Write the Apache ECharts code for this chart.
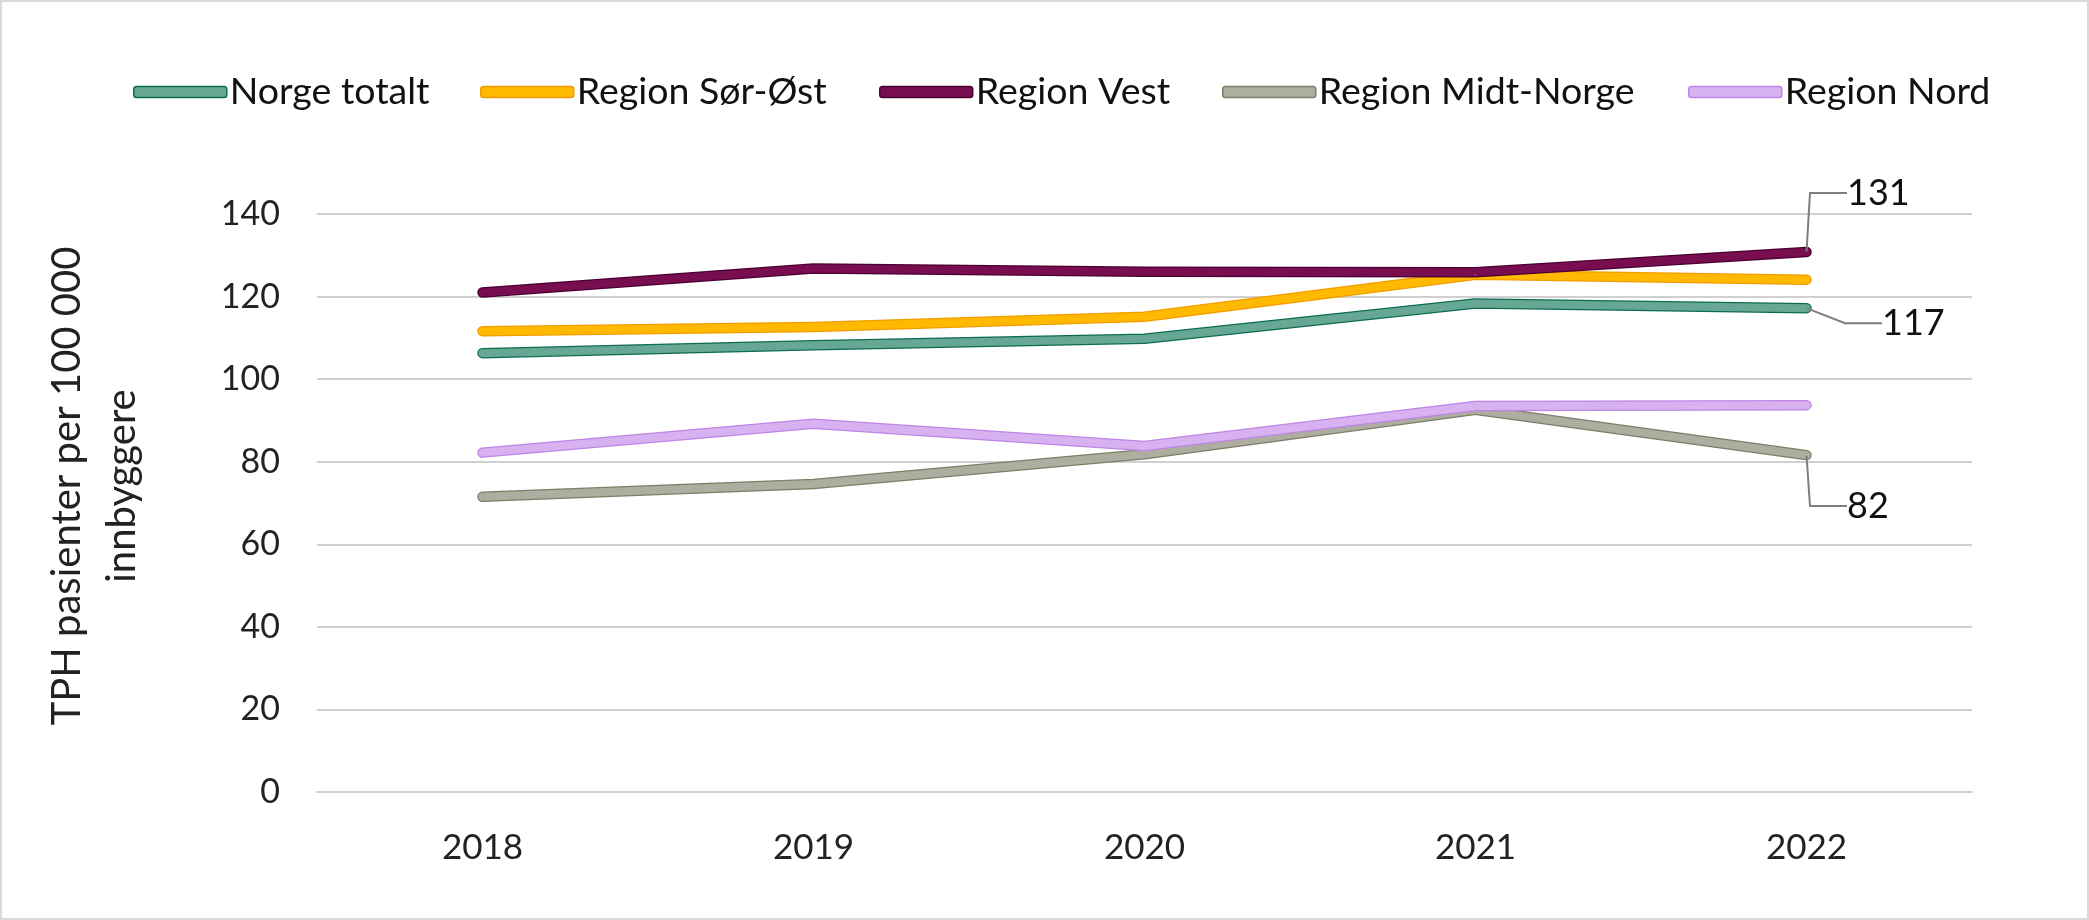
<!DOCTYPE html>
<html>
<head>
<meta charset="utf-8">
<script src="https://cdn.jsdelivr.net/npm/echarts@6/dist/echarts.min.js"></script>
<style>
html,body{margin:0;padding:0;background:#fff;}
#chart{width:2089px;height:920px;}
</style>
</head>
<body>
<div id="chart"></div>
<script>
const years = ['2018', '2019', '2020', '2021', '2022'];
const seriesNames = ['Norge totalt', 'Region Sør-Øst', 'Region Vest', 'Region Midt-Norge', 'Region Nord'];
const norgeTotalt = [106.3, 108.2, 109.8, 118.3, 117.2];
const regionSorOst = [111.6, 112.6, 115.1, 125.3, 124.1];
const regionVest = [121.0, 126.8, 126.0, 125.9, 130.8];
const regionMidtNorge = [71.5, 74.6, 81.8, 92.6, 81.6];
const regionNord = [82.2, 89.2, 83.8, 93.5, 93.7];
const yTicks = { min: 0, max: 140, interval: 20 };
const yAxisTitle = 'TPH pasienter per 100 000\ninnbyggere';

const allValues = [norgeTotalt, regionSorOst, regionVest, regionMidtNorge, regionNord];
const fillColors = ['#66a894', '#ffb900', '#780e50', '#adae9f', '#d8b2f0'];
const edgeColors = ['#0d6b55', '#f39c00', '#4a0030', '#7d7e68', '#bf84e6'];
// which series get an end label, and where that label is moved to
const endLabel = {
  0: { dx: 70, dy: 15 },
  2: { dx: 35, dy: -59 },
  3: { dx: 35, dy: 51 }
};
const FONT = 'Lato';
const legendLefts = [133, 480, 879, 1222, 1688];

const series = [];
allValues.forEach((vals, i) => {
  series.push({
    name: seriesNames[i] + ' ',
    type: 'line',
    data: vals,
    showSymbol: false,
    silent: true,
    lineStyle: { color: edgeColors[i], width: 10.5, cap: 'round', join: 'round' },
    itemStyle: { color: edgeColors[i] },
    emphasis: { disabled: true },
    z: 2
  });
  const lab = endLabel[i];
  const last = vals.length - 1;
  series.push({
    name: seriesNames[i],
    type: 'line',
    data: vals.map((v, j) => (lab && j === last) ? { value: v, label: { show: true } } : v),
    showSymbol: true,
    symbol: 'circle',
    symbolSize: 1,
    silent: true,
    lineStyle: { color: fillColors[i], width: 8, cap: 'round', join: 'round' },
    itemStyle: { color: fillColors[i] },
    emphasis: { disabled: true },
    label: {
      show: false,
      position: 'right',
      distance: 5,
      fontFamily: FONT,
      fontSize: 36,
      color: '#111',
      formatter: p => String(Math.round(p.value))
    },
    labelLayout: lab ? { dx: lab.dx, dy: lab.dy } : undefined,
    labelLine: lab ? { show: true, length2: 37, minTurnAngle: 0, lineStyle: { color: '#7f7f7f', width: 2 } } : undefined,
    z: 2
  });
});

const legends = seriesNames.map((n, i) => ({
  left: legendLefts[i],
  top: 72,
  padding: 0,
  itemWidth: 93,
  itemHeight: 11,
  itemGap: 0,
  selectedMode: false,
  textStyle: { fontFamily: FONT, fontSize: 37.5, color: '#111', lineHeight: 40, padding: [0, 0, 0, -2] },
  data: [{ name: n, icon: 'roundRect', itemStyle: { color: fillColors[i], borderColor: edgeColors[i], borderWidth: 1.5 } }]
}));

const chart = echarts.init(document.getElementById('chart'), null, { renderer: 'canvas' });
chart.setOption({
  animation: false,
  backgroundColor: '#ffffff',
  legend: legends,
  grid: { left: 317, right: 117, top: 214, bottom: 128, containLabel: false },
  xAxis: {
    type: 'category',
    data: years,
    boundaryGap: true,
    axisLine: { show: true, lineStyle: { color: '#d0d0d0', width: 2 } },
    axisTick: { show: false },
    axisLabel: { fontFamily: FONT, fontSize: 35, color: '#222', margin: 38 },
    splitLine: { show: false }
  },
  yAxis: {
    type: 'value',
    min: yTicks.min,
    max: yTicks.max,
    interval: yTicks.interval,
    axisLine: { show: false },
    axisTick: { show: false },
    axisLabel: { fontFamily: FONT, fontSize: 34, color: '#222', margin: 37 },
    splitLine: { show: true, lineStyle: { color: '#d0d0d0', width: 2 } },
    name: yAxisTitle,
    nameLocation: 'middle',
    nameGap: 167,
    nameTextStyle: { fontFamily: FONT, fontSize: 40, color: '#222', lineHeight: 55, padding: [0, 0, 0, 34] }
  },
  graphic: [{
    type: 'rect',
    silent: true,
    shape: { x: 1, y: 1, width: 2087, height: 918 },
    style: { fill: 'none', stroke: '#d9d9d9', lineWidth: 2 }
  }],
  series: series
});
</script>
</body>
</html>
